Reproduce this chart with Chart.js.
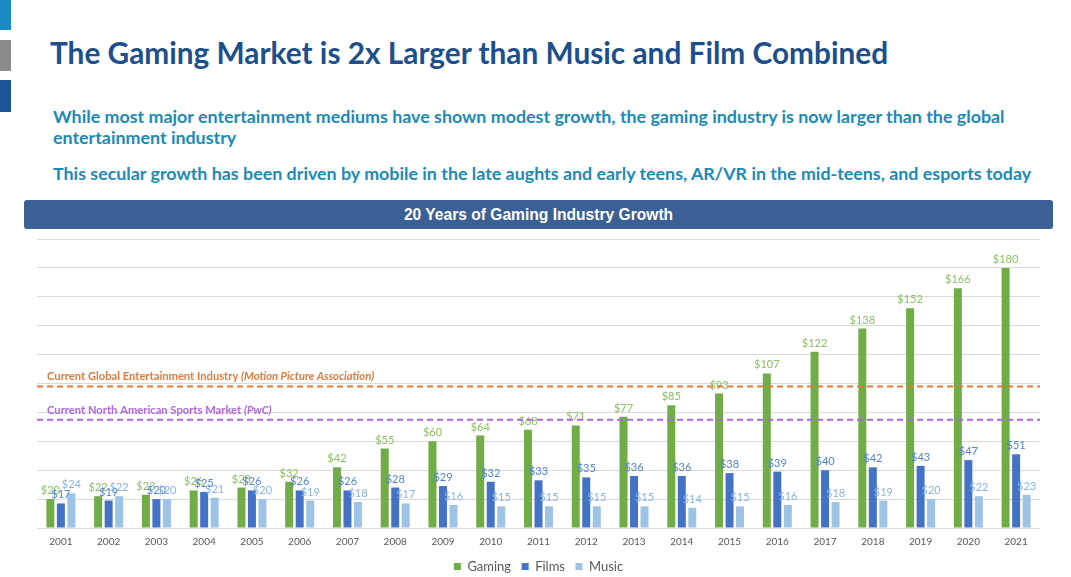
<!DOCTYPE html>
<html>
<head>
<meta charset="utf-8">
<script src="https://cdn.jsdelivr.net/npm/chart.js@4/dist/chart.umd.min.js"></script>
<style>
  body { margin: 0; width: 1071px; height: 577px; background: #fff; position: relative; overflow: hidden; font-family: Lato, sans-serif; }
  .tab { position: absolute; left: 0; width: 11px; }
  h1 { position: absolute; left: 50px; top: 35px; margin: 0; font: bold 29.8px Lato, sans-serif; color: #1c4f8c; white-space: nowrap; }
  .sub { position: absolute; left: 53px; margin: 0; font: bold 17.85px Lato, sans-serif; color: #1b8ab8; line-height: 21px; white-space: nowrap; }
  .bar { position: absolute; left: 24px; top: 200px; width: 1029px; height: 29px; background: #3a6095; border-radius: 3px;
         color: #fff; font: bold 15.6px "Liberation Sans", Arial, sans-serif; text-align: center; line-height: 29px; }
  #wrap { position: absolute; left: 0; top: 232px; width: 1071px; height: 351px; }
</style>
</head>
<body>
<div class="tab" style="top:0;height:30px;background:#1a8ac4"></div>
<div class="tab" style="top:40px;height:31px;background:#8a8a8a"></div>
<div class="tab" style="top:80px;height:32px;background:#1c5496"></div>
<h1>The Gaming Market is 2x Larger than Music and Film Combined</h1>
<p class="sub" style="top:106px">While most major entertainment mediums have shown modest growth, the gaming industry is now larger than the global<br>entertainment industry</p>
<p class="sub" style="top:163px">This secular growth has been driven by mobile in the late aughts and early teens, AR/VR in the mid-teens, and esports today</p>
<div class="bar">20 Years of Gaming Industry Growth</div>
<div id="wrap"><canvas id="chart"></canvas></div>
<script>
const years = ['2001','2002','2003','2004','2005','2006','2007','2008','2009','2010','2011',
  '2012','2013','2014','2015','2016','2017','2018','2019','2020','2021'];
const gaming = [20, 22, 23, 26, 28, 32, 42, 55, 60, 64, 68, 71, 77, 85, 93, 107, 122, 138, 152, 166, 180];
const films = [17, 19, 20, 25, 26, 26, 26, 28, 29, 32, 33, 35, 36, 36, 38, 39, 40, 42, 43, 47, 51];
const music = [24, 22, 20, 21, 20, 19, 18, 17, 16, 15, 15, 15, 15, 14, 15, 16, 18, 19, 20, 22, 23];
const refLabels = ['Current Global Entertainment Industry', 'Current North American Sports Market'];
const refSources = ['(Motion Picture Association)', '(PwC)'];
const refValues = [98, 75];
const refColors = ['#e47a3c', '#b066e0'];
const labelColors = ['#8cc063', '#5582d2', '#8ab4e2'];

// value labels above each bar
const valueLabels = {
  id: 'valueLabels',
  afterDatasetsDraw(chart) {
    const ctx = chart.ctx;
    ctx.save();
    ctx.font = '11px Lato, sans-serif';
    ctx.textAlign = 'center';
    ctx.textBaseline = 'bottom';
    chart.data.datasets.forEach((ds, i) => {
      chart.getDatasetMeta(i).data.forEach((bar, j) => {
        ctx.fillStyle = labelColors[i];
        ctx.fillText('$' + ds.data[j], bar.x, bar.y - 3);
      });
    });
    ctx.restore();
  }
};

// dashed reference lines with captions
const refLines = {
  id: 'refLines',
  afterDatasetsDraw(chart) {
    const ctx = chart.ctx;
    const area = chart.chartArea;
    const y = chart.scales.y;
    ctx.save();
    refValues.forEach((v, i) => {
      const py = y.getPixelForValue(v);
      ctx.strokeStyle = refColors[i];
      ctx.lineWidth = 2;
      ctx.setLineDash([6, 4]);
      ctx.beginPath();
      ctx.moveTo(area.left, py);
      ctx.lineTo(area.right, py);
      ctx.stroke();
      ctx.fillStyle = refColors[i];
      ctx.textBaseline = 'bottom';
      ctx.font = 'bold 11.2px Lato, sans-serif';
      ctx.fillText(refLabels[i] + ' ', area.left + 10, py - 4);
      const w = ctx.measureText(refLabels[i] + ' ').width;
      ctx.font = 'italic bold 11.2px Lato, sans-serif';
      ctx.fillText(refSources[i], area.left + 10 + w, py - 4);
    });
    ctx.restore();
  }
};

new Chart(document.getElementById('chart'), {
  type: 'bar',
  data: {
    labels: years,
    datasets: [
      { label: 'Gaming', data: gaming, backgroundColor: '#70ad47' },
      { label: 'Films', data: films, backgroundColor: '#4472c4' },
      { label: 'Music', data: music, backgroundColor: '#9dc3e6' },
    ],
  },
  options: {
    responsive: true,
    maintainAspectRatio: false,
    animation: false,
    categoryPercentage: 0.66,
    barPercentage: 0.76,
    layout: { padding: { left: 37, right: 31, top: 7, bottom: 0 } },
    scales: {
      x: {
        grid: { display: false, drawTicks: false },
        border: { display: false },
        ticks: { color: '#595959', font: { family: 'Lato', size: 10 }, padding: 8 },
      },
      y: {
        min: 0,
        max: 200,
        ticks: { display: false, stepSize: 20 },
        grid: { color: '#d9d9d9', drawTicks: false },
        border: { display: false },
      },
    },
    plugins: {
      legend: {
        position: 'bottom',
        labels: {
          boxWidth: 7, boxHeight: 7, color: '#595959', font: { family: 'Lato', size: 13 }, padding: 4,
          // a bit more room between items without growing the legend height
          generateLabels: (chart) => Chart.defaults.plugins.legend.labels.generateLabels(chart)
            .map((l, i, all) => ({ ...l, text: i < all.length - 1 ? l.text + '\u2002' : l.text })),
        },
      },
      tooltip: { enabled: false },
    },
  },
  plugins: [valueLabels, refLines],
});
</script>
</body>
</html>
